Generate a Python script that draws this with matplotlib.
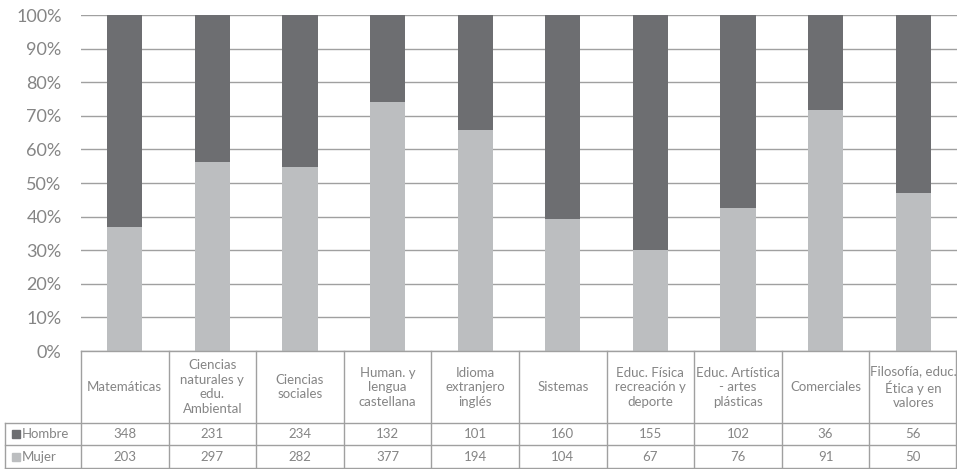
import numpy as np
import matplotlib.pyplot as plt
from matplotlib.lines import Line2D
from matplotlib.patches import Rectangle
from matplotlib.ticker import PercentFormatter

plt.rcParams["font.family"] = ["Lato", "DejaVu Sans"]

materias = [
    "Matemáticas",
    "Ciencias\nnaturales y\nedu.\nAmbiental",
    "Ciencias\nsociales",
    "Human. y\nlengua\ncastellana",
    "Idioma\nextranjero\ninglés",
    "Sistemas",
    "Educ. Física\nrecreación y\ndeporte",
    "Educ. Artística\n- artes\nplásticas",
    "Comerciales",
    "Filosofía, educ.\nÉtica y en\nvalores",
]
hombre = [348, 231, 234, 132, 101, 160, 155, 102, 36, 56]
mujer = [203, 297, 282, 377, 194, 104, 67, 76, 91, 50]

c_hombre = "#6d6e71"
c_mujer = "#bcbec0"
c_text = "#858585"
c_line = "#a0a0a0"

W, H = 957, 469
fig = plt.figure(figsize=(W / 100, H / 100), dpi=100)

# plot area in pixels
x0, x1 = 81, 957
y_top, y_bot = 15, 351
ax = fig.add_axes([x0 / W, 1 - y_bot / H, (x1 - x0) / W, (y_bot - y_top) / H])

h = np.array(hombre, dtype=float)
m = np.array(mujer, dtype=float)
tot = h + m
pm = m / tot
ph = h / tot
x = np.arange(len(materias))

ax.bar(x, pm, width=0.4, color=c_mujer, zorder=3)
ax.bar(x, ph, bottom=pm, width=0.4, color=c_hombre, zorder=3)

ax.set_xlim(-0.5, len(materias) - 0.5)
ax.set_ylim(0, 1)
ax.set_yticks(np.linspace(0, 1, 11))
ax.yaxis.set_major_formatter(PercentFormatter(1.0, decimals=0))
ax.tick_params(axis="y", length=0, pad=14, labelsize=13, labelcolor=c_text)
ax.tick_params(axis="x", length=0, labelbottom=False)
ax.grid(axis="y", color=c_line, linewidth=1, zorder=0)
for s in ax.spines.values():
    s.set_visible(False)


# table underneath, drawn in figure pixels
def fx(px):
    return px / W


def fy(py):
    return 1 - py / H


def hline(xa, xb, yy):
    fig.add_artist(Line2D([fx(xa), fx(xb)], [fy(yy), fy(yy)], color=c_line, lw=1))


def vline(xx, ya, yb):
    fig.add_artist(Line2D([fx(xx), fx(xx)], [fy(ya), fy(yb)], color=c_line, lw=1))


col_w = (x1 - x0) / len(materias)
t_top, r1, r2, t_bot = 351, 423, 445, 468
lab_x = 5

hline(x0, x1 - 1, t_top)
hline(lab_x, x1 - 1, r1)
hline(lab_x, x1 - 1, r2)
hline(lab_x, x1 - 1, t_bot)
vline(lab_x, r1, t_bot)
for i in range(len(materias) + 1):
    xx = min(x0 + i * col_w, x1 - 1)
    vline(xx, t_top, t_bot)

for i, name in enumerate(materias):
    cx = x0 + (i + 0.5) * col_w
    fig.text(fx(cx), fy((t_top + r1) / 2), name, ha="center", va="center",
             fontsize=9.5, color=c_text, linespacing=1.25)
    fig.text(fx(cx), fy((r1 + r2) / 2), str(hombre[i]), ha="center", va="center",
             fontsize=9.5, color=c_text)
    fig.text(fx(cx), fy((r2 + t_bot) / 2), str(mujer[i]), ha="center", va="center",
             fontsize=9.5, color=c_text)

for (ya, yb), label, col in [((r1, r2), "Hombre", c_hombre), ((r2, t_bot), "Mujer", c_mujer)]:
    yc = (ya + yb) / 2
    fig.add_artist(Rectangle((fx(12), fy(yc + 4)), fx(8), 8 / H, color=col))
    fig.text(fx(22), fy(yc), label, ha="left", va="center", fontsize=9.5, color=c_text)

fig.savefig("out.png", dpi=100)
